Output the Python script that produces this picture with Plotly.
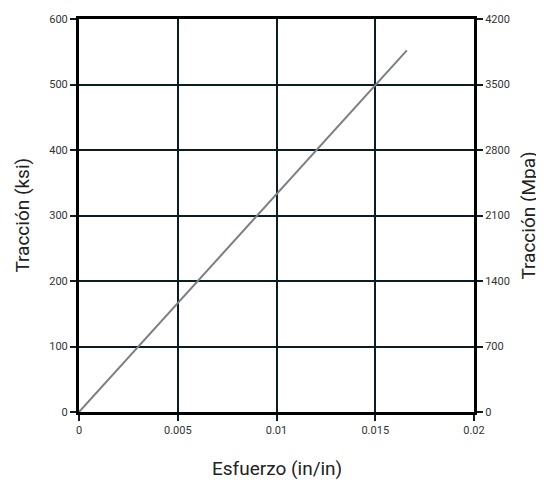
import plotly.graph_objects as go

strain = [0.0, 0.0166]
stress_ksi = [0.0, 552.0]
x_ticks = [0, 0.005, 0.01, 0.015, 0.02]
x_labels = ["0", "0.005", "0.01", "0.015", "0.02"]
ksi_ticks = [0, 100, 200, 300, 400, 500, 600]
mpa_ticks = [0, 700, 1400, 2100, 2800, 3500, 4200]

FONT = "Liberation Sans Narrow, Arial Narrow, Roboto, Liberation Sans, sans-serif"
GRID = "#0b1c22"
TITLE_FONT = dict(family=FONT, size=19, color="#222222")

fig = go.Figure()
fig.add_trace(go.Scatter(x=strain, y=stress_ksi, mode="lines",
                         line=dict(color="#7a7f84", width=2), showlegend=False,
                         hoverinfo="skip"))
fig.add_trace(go.Scatter(x=[0, 0.02], y=[0, 4200], yaxis="y2", mode="lines",
                         line=dict(width=0), opacity=0, showlegend=False, hoverinfo="skip"))

axis_common = dict(showline=True, linecolor="black", linewidth=3,
                   ticks="outside", ticklen=6, tickwidth=2, tickcolor=GRID,
                   tickfont=dict(family=FONT, size=11, color="#333333"),
                   zeroline=False, automargin=False)

fig.update_layout(
    width=536, height=477,
    margin=dict(l=71, r=70, t=11, b=73),
    plot_bgcolor="white", paper_bgcolor="white",
    xaxis=dict(range=[0, 0.02], tickvals=x_ticks, ticktext=x_labels,
               showgrid=True, gridcolor=GRID, gridwidth=2, mirror=True,
               **axis_common),
    yaxis=dict(range=[0, 600], tickvals=ksi_ticks,
               showgrid=True, gridcolor=GRID, gridwidth=2,
               **axis_common),
    yaxis2=dict(range=[0, 4200], tickvals=mpa_ticks, overlaying="y", side="right",
                showgrid=False, **axis_common),
    annotations=[
        dict(text="Esfuerzo (in/in)", xref="paper", yref="paper", x=0.5, y=-0.145,
             xanchor="center", yanchor="middle", showarrow=False, font=TITLE_FONT),
        dict(text="Tracción (ksi)", xref="paper", yref="paper", x=-0.144, y=0.5,
             xanchor="center", yanchor="middle", textangle=-90, showarrow=False, font=TITLE_FONT),
        dict(text="Tracción (Mpa)", xref="paper", yref="paper", x=1.137, y=0.5,
             xanchor="center", yanchor="middle", textangle=-90, showarrow=False, font=TITLE_FONT),
    ],
)

fig.write_html("out.html")
